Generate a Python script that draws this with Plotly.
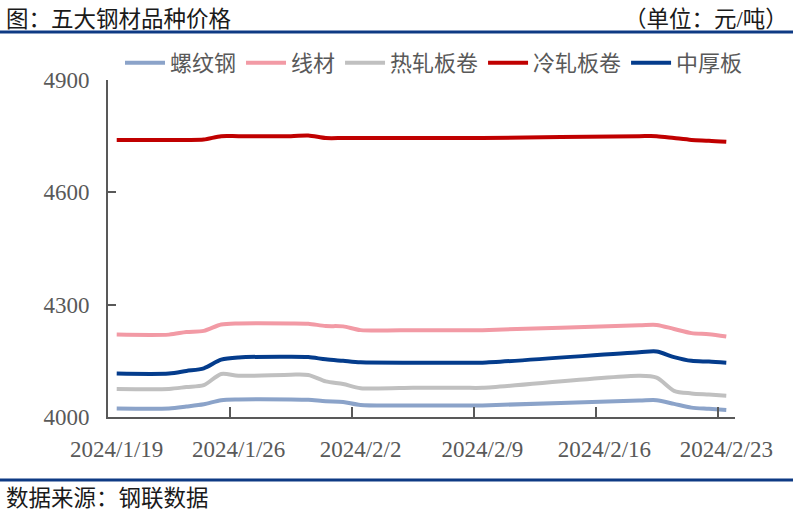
import plotly.graph_objects as go

# ---- data ----
dates = ["2024-01-19", "2024-01-22", "2024-01-23", "2024-01-24", "2024-01-25", "2024-01-26",
         "2024-01-29", "2024-01-30", "2024-01-31", "2024-02-01", "2024-02-02",
         "2024-02-05", "2024-02-06", "2024-02-07", "2024-02-08", "2024-02-09",
         "2024-02-18", "2024-02-19", "2024-02-20", "2024-02-21", "2024-02-22", "2024-02-23"]
rebar = [4023, 4023, 4028, 4034, 4045, 4047, 4047, 4046, 4042, 4040, 4032,
         4031, 4031, 4031, 4031, 4031, 4044, 4045, 4035, 4025, 4022, 4019]
wire = [4220, 4220, 4227, 4230, 4247, 4250, 4250, 4249, 4243, 4242, 4232,
        4232, 4232, 4232, 4232, 4232, 4245, 4246, 4235, 4224, 4221, 4215]
hrc = [4075, 4075, 4080, 4085, 4115, 4110, 4113, 4112, 4095, 4088, 4077,
       4078, 4078, 4078, 4078, 4078, 4110, 4105, 4070, 4063, 4060, 4057]
crc = [4740, 4740, 4740, 4741, 4750, 4750, 4750, 4752, 4745, 4745, 4745,
       4745, 4745, 4745, 4745, 4745, 4750, 4750, 4745, 4740, 4738, 4735]
plate = [4116, 4116, 4123, 4130, 4153, 4159, 4161, 4160, 4154, 4150, 4146,
         4145, 4145, 4145, 4145, 4145, 4173, 4175, 4160, 4150, 4148, 4145]

series_names = ["螺纹钢", "线材", "热轧板卷", "冷轧板卷", "中厚板"]
series_values = [rebar, wire, hrc, crc, plate]
series_colors = ["#8BA3C9", "#F29AA5", "#C0C0C0", "#C00000", "#043C8C"]

x_tick_vals = ["2024-01-19", "2024-01-26", "2024-02-02", "2024-02-09", "2024-02-16", "2024-02-23"]
x_tick_text = ["2024/1/19", "2024/1/26", "2024/2/2", "2024/2/9", "2024/2/16", "2024/2/23"]
x_minor_ticks = ["2024-01-25 12:00", "2024-02-01 12:00", "2024-02-08 12:00",
                 "2024-02-15 12:00", "2024-02-22 12:00"]
y_tick_vals = [4000, 4300, 4600, 4900]

title_text = "图：五大钢材品种价格"
unit_text = "（单位：元/吨）"
source_text = "数据来源：钢联数据"

# ---- layout geometry ----
W, H = 793, 511
L, R, T, B = 108, 735, 80, 417
pw, ph = R - L, B - T


def px(x):
    return (x - L) / pw


def py(y):
    return (B - y) / ph


CJK = "Liberation Serif, Noto Sans CJK SC"
AXIS_COL = "#595959"

fig = go.Figure()
for name, vals, col in zip(series_names, series_values, series_colors):
    fig.add_trace(go.Scatter(
        x=dates, y=vals, name=name, mode="lines",
        line=dict(color=col, width=4, shape="spline", smoothing=0.8),
    ))

fig.update_layout(
    template="none",
    width=W, height=H,
    margin=dict(l=L, r=W - R, t=T, b=H - B, pad=0, autoexpand=False),
    paper_bgcolor="white", plot_bgcolor="white",
    font=dict(family=CJK, color=AXIS_COL),
    showlegend=True,
    legend=dict(
        orientation="h", xref="container", x=120 / W, xanchor="left",
        y=py(63), yanchor="middle",
        font=dict(family=CJK, size=22, color=AXIS_COL),
        bgcolor="rgba(0,0,0,0)", borderwidth=0, itemwidth=40, tracegroupgap=0,
    ),
    xaxis=dict(
        type="date", automargin=False,
        range=["2024-01-18 12:00", "2024-02-23 12:00"],
        tickmode="array", tickvals=x_tick_vals, ticktext=x_tick_text,
        ticks="", showgrid=False, zeroline=False,
        showline=True, linecolor=AXIS_COL, linewidth=2,
        tickfont=dict(family="Liberation Serif", size=23, color=AXIS_COL),
        ticklabelstandoff=10,
        minor=dict(tickmode="array", tickvals=x_minor_ticks, ticks="inside",
                   ticklen=10, tickwidth=2, tickcolor=AXIS_COL, showgrid=False),
    ),
    yaxis=dict(
        automargin=False,
        range=[4000, 4900],
        tickmode="array", tickvals=y_tick_vals,
        ticks="inside", ticklen=8, tickwidth=2, tickcolor=AXIS_COL,
        showgrid=False, zeroline=False,
        showline=True, linecolor=AXIS_COL, linewidth=2,
        tickfont=dict(family="Liberation Serif", size=23, color=AXIS_COL),
        ticklabelstandoff=12,
    ),
)

# header / footer
fig.add_annotation(text=title_text, xref="paper", yref="paper", x=px(4), y=py(19),
                   xanchor="left", yanchor="middle", showarrow=False,
                   font=dict(family=CJK, size=22.5, color="#1A1A1A"))
fig.add_annotation(text=unit_text, xref="paper", yref="paper", x=px(790), y=py(19),
                   xanchor="right", yanchor="middle", showarrow=False,
                   font=dict(family=CJK, size=22.5, color="#1A1A1A"))
fig.add_annotation(text=source_text, xref="paper", yref="paper", x=px(4), y=py(498),
                   xanchor="left", yanchor="middle", showarrow=False,
                   font=dict(family=CJK, size=22.5, color="#1A1A1A"))
for yy in (32, 480):
    fig.add_shape(type="line", xref="paper", yref="paper", layer="above",
                  x0=px(0), x1=px(W), y0=py(yy), y1=py(yy),
                  line=dict(color="#0E3A84", width=3))

fig.write_html("out.html", config={"displayModeBar": False},
               post_script="document.body.style.margin='0';document.documentElement.style.margin='0';")
